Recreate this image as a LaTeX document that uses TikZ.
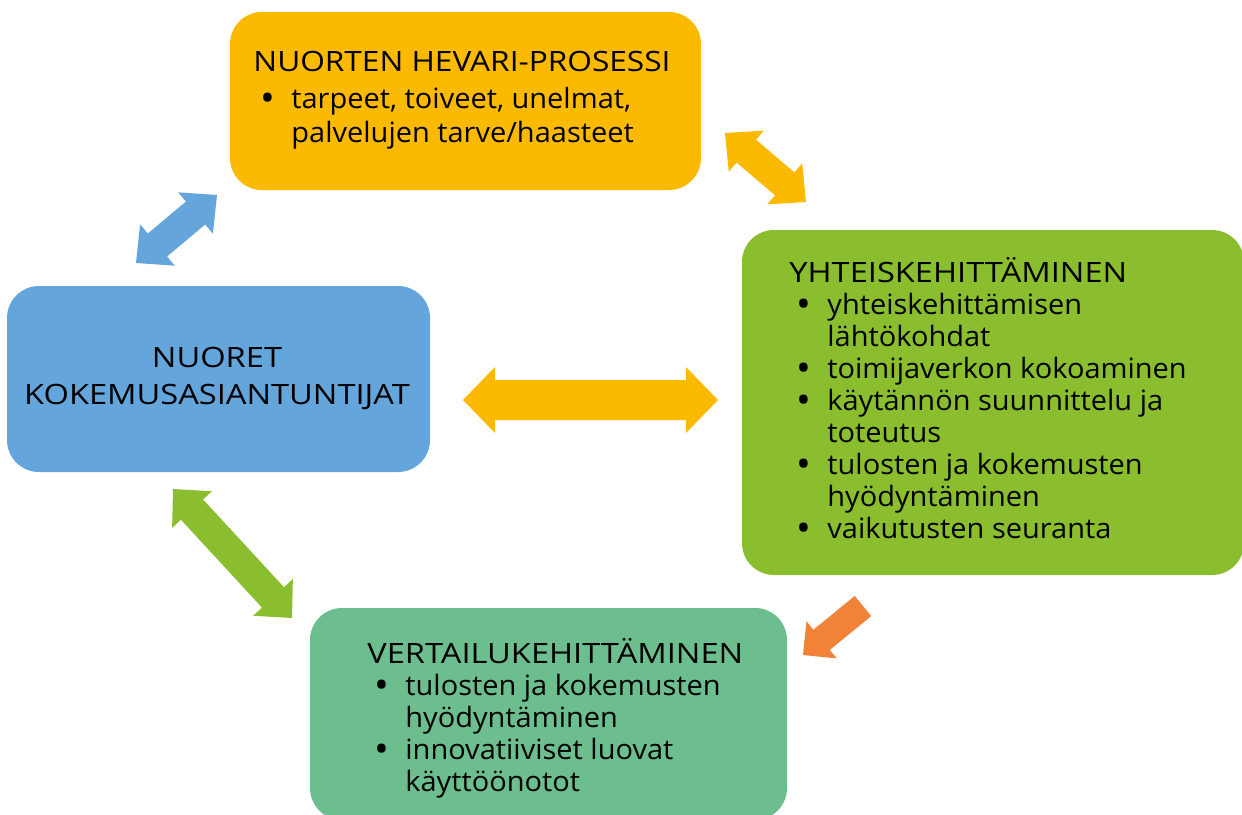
\documentclass[tikz,border=0pt]{standalone}
\usepackage{fontspec}
\setmainfont{Open Sans}[FakeStretch=1.035]
\newfontfamily\otsikko{Open Sans}[FakeStretch=1.165]
\newfontfamily\otsikkokapea{Open Sans}[FakeStretch=1.13]
\usetikzlibrary{calc, positioning}

\definecolor{hevari}{RGB}{251,186,0}
\definecolor{nuoret}{RGB}{100,165,219}
\definecolor{yhteis}{RGB}{138,190,46}
\definecolor{vertailu}{RGB}{109,190,142}
\definecolor{nuoli}{RGB}{240,131,55}

% block arrows between named coordinates
% #1 colour, #2 from, #3 to, #4 shaft half width, #5 head half width, #6 head length
\newcommand{\dblarrow}[6]{%
  \fill[#1] (#2)
    -- ($(#2)!#6!(#3)!#5!90:(#3)$)
    -- ($(#2)!#6!(#3)!#4!90:(#3)$)
    -- ($(#3)!#6!(#2)!#4!-90:(#2)$)
    -- ($(#3)!#6!(#2)!#5!-90:(#2)$)
    -- (#3)
    -- ($(#3)!#6!(#2)!#5!90:(#2)$)
    -- ($(#3)!#6!(#2)!#4!90:(#2)$)
    -- ($(#2)!#6!(#3)!#4!-90:(#3)$)
    -- ($(#2)!#6!(#3)!#5!-90:(#3)$)
    -- cycle;}
\newcommand{\onearrow}[6]{%
  \fill[#1] ($(#2)!#4!90:(#3)$)
    -- ($(#3)!#6!(#2)!#4!-90:(#2)$)
    -- ($(#3)!#6!(#2)!#5!-90:(#2)$)
    -- (#3)
    -- ($(#3)!#6!(#2)!#5!90:(#2)$)
    -- ($(#3)!#6!(#2)!#4!90:(#2)$)
    -- ($(#2)!#4!-90:(#3)$)
    -- cycle;}
\newcommand{\itm}{\hspace*{3.5pt}\makebox[15.5pt][l]{\smash{\raisebox{-1.6pt}{\fontsize{19}{16}\selectfont\textbullet}}}}
\newcommand{\jatko}{\hspace*{19pt}}

\begin{document}
\begin{tikzpicture}[
    x=0.5pt, y=-0.5pt,
    box/.style={rectangle, rounded corners=16pt, inner sep=0pt},
    txt/.style={font=\fontsize{14}{16}\selectfont, align=left, inner sep=0pt, anchor=base west}
    ]
    \clip (0,0) rectangle (1242,814);
    \useasboundingbox (0,0) rectangle (1242,814);

    % --- laatikot ---
    \node[box, fill=hevari, minimum width=235.5pt, minimum height=89pt] (hevari) at (465.5,101) {};
    \node[box, fill=nuoret, minimum width=211.5pt, minimum height=93pt] (nuoret) at (218.5,379) {};
    \node[box, fill=yhteis, minimum width=251pt, minimum height=172.5pt] (yhteis) at (993,402.5) {};
    \node[box, fill=vertailu, minimum width=238.5pt, minimum height=106pt] (vertailu) at (548.5,714) {};

    % --- tekstit (ankkuri = viimeisen rivin perusviiva) ---
    \node[txt, font=\fontsize{14}{17}\selectfont] (hevariT) at (253,142) {{\otsikkokapea NUORTEN HEVARI-PROSESSI}\\[1.3pt]
      \itm tarpeet, toiveet, unelmat,\\
      \jatko palvelujen tarve/haasteet};
    \node[font=\fontsize{14}{18.5}\selectfont, align=center, inner sep=0pt, anchor=base] (nuoretT) at (217,404)
      {\otsikko NUORET\\\otsikko KOKEMUSASIANTUNTIJAT};
    \node[txt] (yhteisT) at (789,538) {{\otsikko YHTEISKEHITTÄMINEN}\\
      \itm yhteiskehittämisen\\
      \jatko lähtökohdat\\
      \itm toimijaverkon kokoaminen\\
      \itm käytännön suunnittelu ja\\
      \jatko toteutus\\
      \itm tulosten ja kokemusten\\
      \jatko hyödyntäminen\\
      \itm vaikutusten seuranta};
    \node[txt] (vertailuT) at (367,791) {{\otsikko VERTAILUKEHITTÄMINEN}\\
      \itm tulosten ja kokemusten\\
      \jatko hyödyntäminen\\
      \itm innovatiiviset luovat\\
      \jatko käyttöönotot};

    % --- nuolet ---
    \coordinate (n1a) at (136,263);
    \coordinate (n1b) at (217,195);
    \coordinate (n2a) at (725,133);
    \coordinate (n2b) at (806,202);
    \coordinate (n3a) at (463,400);
    \coordinate (n3b) at (718,400);
    \coordinate (n4a) at (173,489);
    \coordinate (n4b) at (292,618);
    \coordinate (n5a) at (863,606);
    \coordinate (n5b) at (803,655);

    \dblarrow{nuoret}{n1a}{n1b}{7.5pt}{13.5pt}{14pt}
    \dblarrow{hevari}{n2a}{n2b}{7.5pt}{13.5pt}{14pt}
    \dblarrow{hevari}{n3a}{n3b}{10pt}{16.5pt}{16pt}
    \dblarrow{yhteis}{n4a}{n4b}{7.5pt}{13.5pt}{14pt}
    \onearrow{nuoli}{n5a}{n5b}{6.5pt}{12pt}{12pt}

\end{tikzpicture}
\end{document}
